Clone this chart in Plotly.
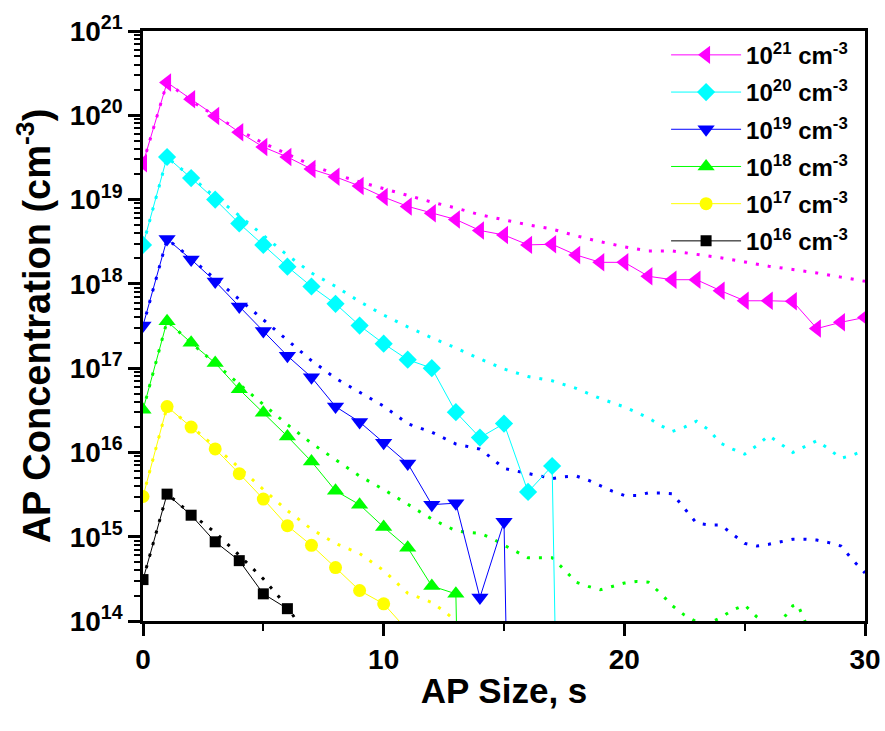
import plotly.graph_objects as go

# ---------------- data (measured series: markers + thin solid line) ----------------
x_21 = list(range(0, 31))
y_21 = [2.7e19, 2.45e20, 1.55e20, 9.8e19, 6.3e19, 4.2e19, 3.2e19, 2.3e19, 1.86e19, 1.45e19,
        1.07e19, 8.3e18, 6.9e18, 5.8e18, 4.3e18, 3.8e18, 2.9e18, 2.95e18, 2.2e18, 1.8e18,
        1.8e18, 1.23e18, 1.12e18, 1.12e18, 8.3e17, 6.3e17, 6.3e17, 6.2e17, 2.95e17, 3.5e17, 4.0e17]

x_20 = list(range(0, 19))
y_20 = [2.9e18, 3.2e19, 1.8e19, 1.0e19, 5.2e18, 2.9e18, 1.6e18, 9.3e17, 5.8e17, 3.2e17,
        1.95e17, 1.26e17, 1.0e17, 3.0e16, 1.5e16, 2.2e16, 3.4e15, 6.9e15, 1.0]

x_19 = list(range(0, 17))
y_19 = [3.2e17, 3.4e18, 1.95e18, 1.07e18, 5.4e17, 2.75e17, 1.4e17, 7.8e16, 3.5e16, 2.3e16,
        1.3e16, 7.4e15, 2.4e15, 2.5e15, 1.9e14, 1.5e15, 1.0]

x_18 = list(range(0, 15))
y_18 = [3.2e16, 3.6e17, 2.0e17, 1.15e17, 5.6e16, 2.95e16, 1.55e16, 7.8e15, 3.5e15, 2.4e15,
        1.3e15, 7.4e14, 2.6e14, 2.1e14, 1.0]

x_17 = list(range(0, 12))
y_17 = [3.0e15, 3.5e16, 2.0e16, 1.1e16, 5.6e15, 2.8e15, 1.35e15, 7.9e14, 4.3e14, 2.3e14,
        1.6e14, 7.7e13]

x_16 = list(range(0, 7))
y_16 = [3.1e14, 3.2e15, 1.8e15, 8.7e14, 5.2e14, 2.1e14, 1.4e14]

# ---------------- data (simulated curves: dotted lines, log10 values) ----------------
xs_21 = list(range(0, 31))
ls_21 = [19.43, 20.39, 20.17, 20.00, 19.82, 19.67, 19.54, 19.41, 19.30, 19.21, 19.13, 19.05,
         18.97, 18.90, 18.82, 18.76, 18.70, 18.65, 18.57, 18.50, 18.44, 18.39, 18.39, 18.35,
         18.31, 18.26, 18.21, 18.17, 18.13, 18.08, 18.03]

xs_20 = [0, 1, 2, 3, 4, 5, 6, 7, 8, 9, 10, 11, 12, 13, 14, 15, 16, 17, 18, 19, 20, 21, 21.5,
         22, 22.5, 23, 23.5, 24, 24.5, 25, 25.5, 26, 26.5, 27, 27.5, 28, 28.5, 29, 29.5, 30]
ls_20 = [18.46, 19.50, 19.27, 19.03, 18.81, 18.58, 18.34, 18.13, 17.97, 17.79, 17.63, 17.49,
         17.36, 17.24, 17.11, 16.99, 16.90, 16.85, 16.76, 16.64, 16.54, 16.41, 16.32, 16.25,
         16.30, 16.37, 16.27, 16.11, 16.04, 15.98, 16.08, 16.20, 16.10, 16.00, 16.07, 16.14,
         16.04, 15.93, 15.97, 16.03]

xs_19 = [0, 1, 1.5, 2, 3, 4, 5, 6, 7, 8, 9, 10, 11, 12, 13, 14, 14.5, 15, 16, 17, 17.5, 18,
         18.5, 19, 19.5, 20, 20.5, 21, 21.5, 22, 22.5, 23, 23.5, 24, 24.5, 25, 25.5, 26, 26.5,
         27, 27.5, 28, 28.5, 29, 29.5, 30]
ls_19 = [17.50, 18.53, 18.42, 18.30, 18.06, 17.82, 17.57, 17.33, 17.09, 16.88, 16.71, 16.55,
         16.34, 16.24, 16.10, 16.04, 15.93, 15.81, 15.75, 15.69, 15.71, 15.72, 15.67, 15.60,
         15.54, 15.49, 15.49, 15.52, 15.52, 15.51, 15.34, 15.16, 15.14, 15.14, 15.03, 14.92,
         14.89, 14.91, 14.94, 14.97, 14.97, 14.96, 14.93, 14.89, 14.72, 14.57]

xs_18 = [0, 1, 2, 3, 4, 5, 6, 7, 8, 9, 10, 11, 12, 13, 13.5, 14, 14.5, 15, 15.5, 16, 16.5, 17,
         17.5, 18, 18.5, 19, 19.5, 20, 20.5, 21, 21.5, 22, 22.5, 23, 23.5, 24, 24.5, 25, 25.5,
         26, 26.5, 27, 27.2, 27.5, 28]
ls_18 = [16.50, 17.56, 17.30, 17.05, 16.81, 16.57, 16.33, 16.11, 15.91, 15.72, 15.56, 15.38,
         15.21, 15.07, 15.05, 15.04, 14.98, 14.90, 14.82, 14.75, 14.75, 14.75, 14.61, 14.46,
         14.41, 14.37, 14.41, 14.45, 14.47, 14.46, 14.33, 14.18, 14.07, 13.99, 13.97, 14.04,
         14.13, 14.19, 14.05, 13.95, 13.99, 14.18, 14.20, 14.00, 13.80]

xs_17 = [0, 1, 2, 3, 4, 5, 6, 7, 8, 9, 10, 11, 12, 12.5, 13, 13.5]
ls_17 = [15.48, 16.54, 16.31, 16.07, 15.82, 15.56, 15.31, 15.09, 14.92, 14.80, 14.60, 14.33,
         14.22, 14.12, 14.00, 13.85]

xs_16 = [0, 1, 2, 3, 4, 5, 6, 6.5]
ls_16 = [14.49, 15.51, 15.27, 15.05, 14.78, 14.50, 14.17, 13.95]

names = ["10<sup>21</sup> cm<sup>-3</sup>", "10<sup>20</sup> cm<sup>-3</sup>",
         "10<sup>19</sup> cm<sup>-3</sup>", "10<sup>18</sup> cm<sup>-3</sup>",
         "10<sup>17</sup> cm<sup>-3</sup>", "10<sup>16</sup> cm<sup>-3</sup>"]
colors = ["#FF00FF", "#00FFFF", "#0000FF", "#00FF00", "#FFFF00", "#000000"]
symbols = ["triangle-left", "diamond", "triangle-down", "triangle-up", "circle", "square"]
msizes = [16, 14, 15, 15, 13, 11]

y_ticks = [1e14, 1e15, 1e16, 1e17, 1e18, 1e19, 1e20, 1e21]
y_ticktext = ["<b>10<sup>%d</sup></b>" % e for e in range(14, 22)]
x_ticks = [0, 10, 20, 30]

meas = [(x_21, y_21), (x_20, y_20), (x_19, y_19), (x_18, y_18), (x_17, y_17), (x_16, y_16)]
sims = [(xs_21, ls_21), (xs_20, ls_20), (xs_19, ls_19), (xs_18, ls_18), (xs_17, ls_17), (xs_16, ls_16)]

fig = go.Figure()

for (xs, ls), c in zip(sims, colors):
    fig.add_trace(go.Scatter(x=xs, y=[10 ** v for v in ls], mode="lines",
                             line=dict(color=c, width=3, dash="3px,9px"),
                             showlegend=False, hoverinfo="skip"))

for i, ((xm, ym), c, s, ms, n) in enumerate(zip(meas, colors, symbols, msizes, names)):
    fig.add_trace(go.Scatter(x=xm, y=ym, mode="lines+markers", name=n, legendgroup="g%d" % i,
                             line=dict(color=c, width=1),
                             marker=dict(symbol=s, size=ms, color=c, line=dict(width=0))))

font_family = "Liberation Sans, Arial, sans-serif"

fig.update_layout(
    width=885, height=731,
    margin=dict(l=143, r=20, t=31, b=110),
    paper_bgcolor="white", plot_bgcolor="white",
    font=dict(family=font_family, color="black"),
    showlegend=True,
    legend=dict(x=0.7245, y=0.997, xanchor="left", yanchor="top",
                bgcolor="rgba(255,255,255,0)", borderwidth=0,
                font=dict(family=font_family, size=24, weight="bold", color="black"),
                itemwidth=70, tracegroupgap=3),
    xaxis=dict(range=[0, 30], tickvals=x_ticks, ticks="outside", ticklen=12, tickwidth=2.5,
               tickcolor="black", showline=True, linecolor="black", linewidth=2.5,
               mirror=True, showgrid=False, zeroline=False, automargin=False,
               tickfont=dict(size=28, weight="bold"),
               minor=dict(dtick=5, ticks="outside", ticklen=7, tickwidth=2, tickcolor="black",
                          showgrid=False),
               title=dict(text="<b>AP Size, s</b>", font=dict(size=35), standoff=5)),
    yaxis=dict(type="log", range=[14, 21], tickvals=y_ticks, ticktext=y_ticktext,
               ticks="outside", ticklen=12, tickwidth=2.5, tickcolor="black",
               showline=True, linecolor="black", linewidth=2.5, mirror=True,
               showgrid=False, zeroline=False, automargin=False, tickfont=dict(size=28),
               minor=dict(dtick="D1", ticks="outside", ticklen=6, tickwidth=1.5,
                          tickcolor="black", showgrid=False),
               title=dict(text="<b>AP Concentration (cm<sup>-3</sup>)</b>", font=dict(size=38),
                          standoff=8)),
)

fig.write_html("out.html")
